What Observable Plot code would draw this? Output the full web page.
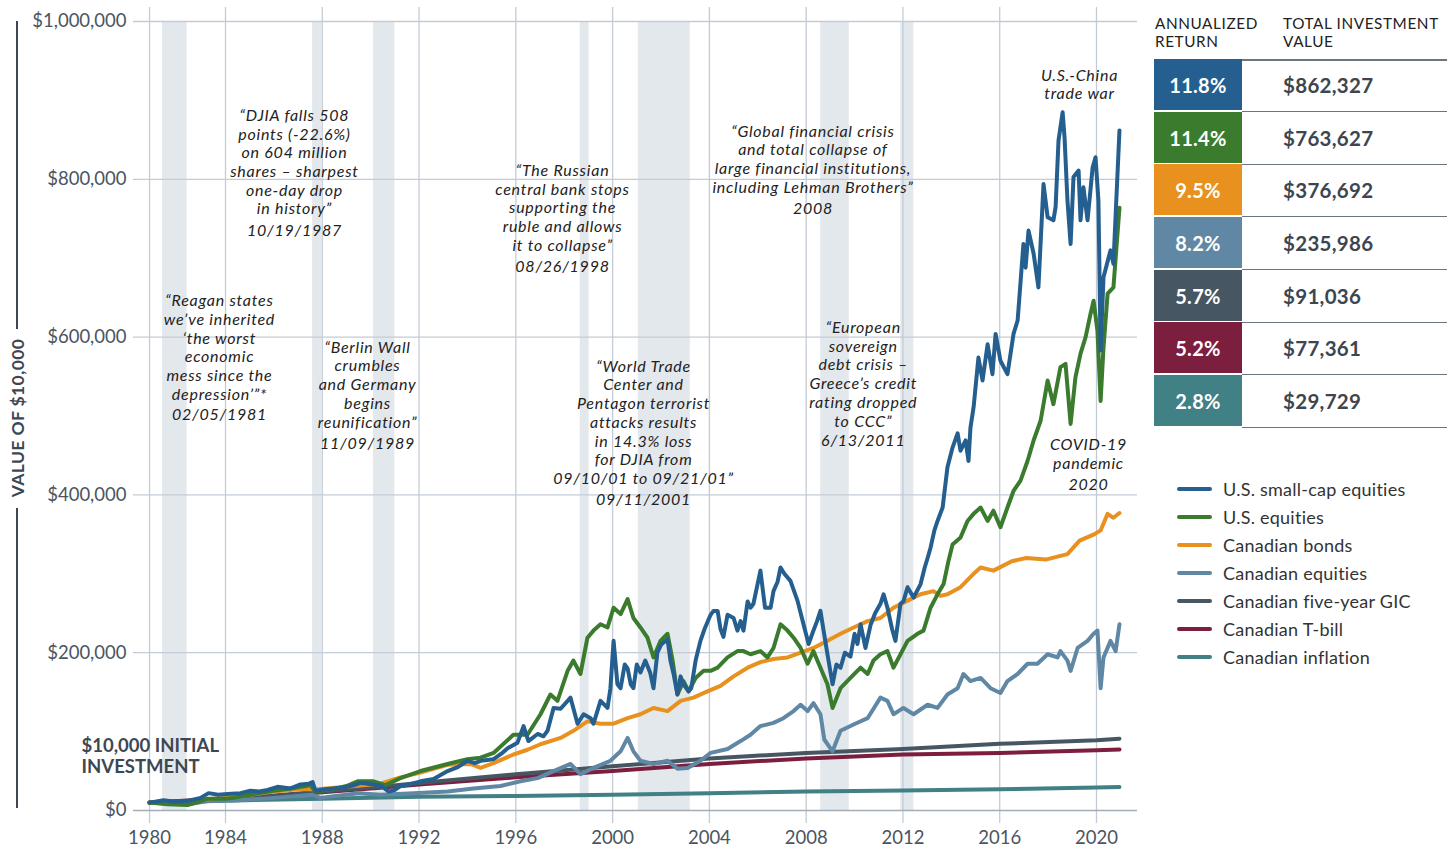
<!DOCTYPE html>
<html><head><meta charset="utf-8">
<script src="https://cdn.jsdelivr.net/npm/d3@7"></script>
<script src="https://cdn.jsdelivr.net/npm/@observablehq/plot@0.6"></script>
<style>
body{margin:0;background:#fff;font-family:Lato,"Open Sans",sans-serif;}
#wrap{position:relative;width:1456px;height:849px;overflow:hidden;background:#fff;}
#chart{position:absolute;left:0;top:0;}
.yline{position:absolute;left:16px;width:1.5px;background:#3d4753;}
#ylab{position:absolute;left:17px;top:418px;transform:translate(-50%,-50%) rotate(-90deg);white-space:nowrap;font-weight:700;font-size:17.5px;color:#3d4753;letter-spacing:0.4px;}
.hdr{position:absolute;top:14px;font-size:15.3px;line-height:18px;color:#222;letter-spacing:0.6px;}
.box{position:absolute;left:1154px;width:88px;color:#fff;font-weight:700;font-size:20px;display:flex;align-items:center;justify-content:center;letter-spacing:0.3px;}
.val{position:absolute;left:1283px;font-weight:700;font-size:20.5px;color:#3d4650;display:flex;align-items:center;letter-spacing:0.3px;}
.sep{position:absolute;left:1242px;width:205px;height:1.5px;background:#6b7580;}
.leg{position:absolute;left:1177px;display:flex;align-items:center;font-size:18px;color:#333;letter-spacing:0.25px;}
.leg span.sw{display:inline-block;width:35px;height:4px;border-radius:2px;margin-right:11px;}
</style></head>
<body><div id="wrap"><div id="chart"></div>
<div class="yline" style="top:21px;height:308px"></div>
<div class="yline" style="top:508px;height:300px"></div>
<div id="ylab">VALUE OF $10,000</div>
</div>
<script>
// ---- Data (values in thousands of dollars, x in decimal years) ----
const seriesNames = ["U.S. small-cap equities","U.S. equities","Canadian bonds","Canadian equities","Canadian five-year GIC","Canadian T-bill","Canadian inflation"];
const seriesColors = ["#245f8f","#3a7b2d","#e8911e","#6088a4","#475663","#7c1f3e","#418085"];
const annualizedReturns = ["11.8%","11.4%","9.5%","8.2%","5.7%","5.2%","2.8%"];
const totalValues = ["$862,327","$763,627","$376,692","$235,986","$91,036","$77,361","$29,729"];

const smallCap = [[1980.86,10],[1981.44,13],[1981.9,11],[1982.43,12],[1982.97,16],[1983.3,22],[1983.7,20],[1984.08,21],[1984.62,22],[1985.03,25],[1985.4,24],[1985.74,26],[1986.15,30],[1986.69,28],[1987.1,33],[1987.45,34],[1987.6,36],[1987.72,25],[1988.1,27],[1988.46,28],[1988.9,29],[1989.29,32],[1989.58,35],[1990.12,33],[1990.45,31],[1990.75,24],[1991.0,26],[1991.23,31],[1991.6,33],[1992.06,37],[1992.6,40],[1993.18,50],[1993.6,55],[1994.0,63],[1994.3,60],[1994.54,63],[1995.08,65],[1995.4,72],[1995.66,79],[1996.07,86],[1996.32,107],[1996.52,88],[1996.9,97],[1997.14,94],[1997.31,101],[1997.56,130],[1997.85,129],[1998.26,143],[1998.55,110],[1998.8,122],[1999.09,117],[1999.21,110],[1999.5,139],[1999.79,130],[1999.91,155],[2000.04,215],[2000.2,160],[2000.33,155],[2000.5,185],[2000.62,180],[2000.75,160],[2000.86,155],[2001.0,185],[2001.15,175],[2001.35,190],[2001.55,175],[2001.69,155],[2001.85,200],[2002.0,210],[2002.27,217],[2002.39,190],[2002.52,173],[2002.68,147],[2002.81,170],[2002.93,160],[2003.14,151],[2003.25,155],[2003.43,190],[2003.63,215],[2003.8,230],[2004.05,248],[2004.17,253],[2004.34,253],[2004.46,230],[2004.58,220],[2004.75,248],[2005.0,244],[2005.16,228],[2005.29,240],[2005.41,228],[2005.58,265],[2005.7,257],[2005.82,262],[2006.11,304],[2006.3,257],[2006.53,257],[2006.65,278],[2006.82,290],[2006.94,308],[2007.1,300],[2007.35,291],[2007.64,266],[2007.89,236],[2008.1,211],[2008.3,228],[2008.45,240],[2008.59,253],[2008.71,230],[2008.88,198],[2009.09,160],[2009.25,185],[2009.42,181],[2009.6,200],[2009.83,195],[2010.0,224],[2010.12,211],[2010.25,236],[2010.45,206],[2010.66,235],[2010.85,250],[2011.07,262],[2011.2,274],[2011.36,257],[2011.55,230],[2011.69,215],[2011.9,262],[2012.02,265],[2012.19,283],[2012.44,270],[2012.73,287],[2012.9,308],[2013.02,320],[2013.14,333],[2013.3,355],[2013.43,367],[2013.64,384],[2013.84,435],[2014.05,460],[2014.26,478],[2014.38,456],[2014.59,469],[2014.71,443],[2014.79,485],[2014.92,511],[2015.12,574],[2015.29,545],[2015.5,591],[2015.7,553],[2015.83,604],[2016.03,570],[2016.32,553],[2016.57,604],[2016.74,621],[2016.98,718],[2017.07,688],[2017.19,735],[2017.4,706],[2017.6,663],[2017.81,794],[2017.98,752],[2018.22,748],[2018.31,765],[2018.43,849],[2018.6,885],[2018.68,853],[2018.8,773],[2018.93,718],[2019.05,803],[2019.26,811],[2019.34,748],[2019.46,790],[2019.63,748],[2019.84,815],[2019.96,828],[2020.08,773],[2020.17,583],[2020.29,676],[2020.58,710],[2020.7,693],[2020.95,862]];
const usEquities = [[1980.86,10],[1981.6,8],[1982.43,7],[1982.9,11],[1983.26,15],[1984.0,15],[1984.33,16],[1985.16,21],[1985.98,25],[1986.69,28],[1987.51,32],[1987.72,24],[1988.46,27],[1989.0,31],[1989.46,37],[1990.12,37],[1990.6,32],[1991.23,41],[1992.06,50],[1993.18,59],[1994.0,65],[1994.54,67],[1995.08,73],[1995.9,96],[1996.48,96],[1997.02,122],[1997.43,147],[1997.72,139],[1998.14,177],[1998.38,190],[1998.67,173],[1998.96,219],[1999.21,228],[1999.5,236],[1999.79,232],[2000.04,257],[2000.33,249],[2000.62,268],[2000.86,244],[2001.15,232],[2001.44,219],[2001.69,194],[2001.98,215],[2002.27,224],[2002.48,190],[2002.68,147],[2002.93,164],[2003.14,151],[2003.43,168],[2003.76,177],[2004.05,177],[2004.34,181],[2004.75,194],[2005.16,202],[2005.41,202],[2005.7,198],[2006.11,202],[2006.4,194],[2006.65,206],[2006.94,236],[2007.23,228],[2007.48,219],[2007.77,206],[2008.06,186],[2008.3,202],[2008.59,181],[2008.88,160],[2009.09,130],[2009.42,155],[2009.83,168],[2010.25,181],[2010.54,173],[2010.78,190],[2011.07,198],[2011.36,202],[2011.61,181],[2011.9,198],[2012.19,215],[2012.6,224],[2012.85,228],[2013.14,257],[2013.43,274],[2013.68,287],[2013.88,316],[2014.05,337],[2014.38,346],[2014.67,367],[2014.92,376],[2015.21,384],[2015.5,367],[2015.74,380],[2016.03,359],[2016.32,384],[2016.57,405],[2016.86,418],[2017.15,443],[2017.4,469],[2017.69,494],[2017.98,545],[2018.22,515],[2018.51,562],[2018.72,566],[2018.93,490],[2019.13,549],[2019.34,579],[2019.55,600],[2019.75,629],[2019.88,646],[2020.04,608],[2020.17,519],[2020.29,587],[2020.46,655],[2020.7,663],[2020.95,764]];
const canBonds = [[1980.86,10],[1981.5,9],[1982.3,10],[1983,14],[1984,16],[1985,20],[1986,24],[1987,27],[1987.8,27],[1989,30],[1990.4,34],[1991.23,42],[1992.06,48],[1993.18,58],[1994.13,59],[1994.54,54],[1995.08,60],[1995.9,71],[1996.48,77],[1997.02,84],[1997.85,92],[1998.38,101],[1998.96,113],[1999.5,110],[2000.04,110],[2000.62,117],[2001.15,122],[2001.69,130],[2002.27,126],[2002.81,139],[2003.34,143],[2003.92,151],[2004.46,158],[2005.0,170],[2005.58,181],[2006.11,188],[2006.65,192],[2007.23,194],[2007.77,200],[2008.3,206],[2008.88,215],[2009.42,224],[2009.96,232],[2010.54,240],[2011.07,244],[2011.61,257],[2012.19,266],[2012.73,274],[2013.26,278],[2013.55,272],[2013.84,274],[2014.38,283],[2014.92,300],[2015.21,308],[2015.74,304],[2016.5,316],[2017.1,320],[2017.9,318],[2018.8,325],[2019.3,342],[2019.9,350],[2020.17,355],[2020.46,376],[2020.7,371],[2020.95,377]];
const canEquities = [[1980.86,10],[1981.5,10],[1982.43,8],[1983.3,12],[1984.5,13],[1986,16],[1987.6,20],[1987.9,16],[1989.5,22],[1990.41,20],[1991.77,22],[1993.18,24],[1994.25,28],[1995.37,31],[1996.19,37],[1996.9,41],[1997.56,50],[1998.26,59],[1998.67,46],[1999.21,54],[1999.91,63],[2000.33,75],[2000.62,92],[2000.86,75],[2001.15,63],[2001.69,59],[2002.27,63],[2002.68,53],[2003.1,54],[2003.63,63],[2004.05,73],[2004.75,78],[2005.29,88],[2005.7,96],[2006.11,107],[2006.65,111],[2007.06,117],[2007.48,126],[2007.77,134],[2008.06,126],[2008.3,136],[2008.59,122],[2008.75,90],[2009.09,75],[2009.42,101],[2009.96,109],[2010.54,117],[2011.07,143],[2011.36,139],[2011.61,122],[2012.02,130],[2012.44,122],[2013.02,134],[2013.43,130],[2013.84,147],[2014.26,155],[2014.5,173],[2014.79,164],[2015.21,168],[2015.62,155],[2016.03,149],[2016.32,164],[2016.74,173],[2017.15,186],[2017.56,186],[2017.98,198],[2018.39,194],[2018.51,202],[2018.8,190],[2018.93,177],[2019.22,206],[2019.63,215],[2019.88,224],[2020.04,228],[2020.17,155],[2020.29,194],[2020.58,215],[2020.79,202],[2020.95,236]];
const canGIC = [[1980.86,10],[1984,15],[1986,19],[1988,24],[1990,29],[1992,35],[1996,46],[2000,56],[2004,66],[2008,73],[2012,78],[2016,84.5],[2020,89],[2020.95,91]];
const canTBill = [[1980.86,10],[1984,15],[1986,18.5],[1988,23],[1990,28],[1992,33],[1996,42],[2000,50],[2004,59],[2008,66],[2012,71],[2016,73],[2020,76.5],[2020.95,77.4]];
const canInflation = [[1980.86,10],[1984,12.5],[1988,15],[1992,17.5],[1996,18.5],[2000,20],[2004,22],[2008,24],[2012,25.5],[2016,27],[2020,29],[2020.95,29.7]];

const recessionStarts = [1981.40, 1987.60, 1990.12, 1998.66, 2001.06, 2008.60, 2011.91];
const recessionEnds   = [1982.41, 1987.98, 1991.00, 1999.03, 2003.21, 2009.78, 2012.45];

const xTickYears = [1980.86, 1984, 1988, 1992, 1996, 2000, 2004, 2008, 2012, 2016, 2020];
const xTickLabels = ["1980","1984","1988","1992","1996","2000","2004","2008","2012","2016","2020"];
const yTicks = [0, 200000, 400000, 600000, 800000, 1000000];

const annotations = [
  {x: 1983.75, y: 656000, quote: "“Reagan states\nwe’ve inherited\n‘the worst\neconomic\nmess since the\ndepression’”*", date: "02/05/1981", dateY: 502000},
  {x: 1986.85, y: 891000, quote: "“DJIA falls 508\npoints (-22.6%)\non 604 million\nshares – sharpest\none-day drop\nin history”", date: "10/19/1987", dateY: 734000},
  {x: 1989.87, y: 597000, quote: "“Berlin Wall\ncrumbles\nand Germany\nbegins\nreunification”", date: "11/09/1989", dateY: 465000},
  {x: 1997.93, y: 821000, quote: "“The Russian\ncentral bank stops\nsupporting the\nruble and allows\nit to collapse”", date: "08/26/1998", dateY: 689000},
  {x: 2001.28, y: 573000, quote: "“World Trade\nCenter and\nPentagon terrorist\nattacks results\nin 14.3% loss\nfor DJIA from\n09/10/01 to 09/21/01”", date: "09/11/2001", dateY: 394000},
  {x: 2008.28, y: 871000, quote: "“Global financial crisis\nand total collapse of\nlarge financial institutions,\nincluding Lehman Brothers”", date: "2008", dateY: 762000},
  {x: 2010.36, y: 622000, quote: "“European\nsovereign\ndebt crisis –\nGreece’s credit\nrating dropped\nto CCC”", date: "6/13/2011", dateY: 468000},
  {x: 2019.30, y: 942000, quote: "U.S.-China\ntrade war", date: null, dateY: null},
  {x: 2019.67, y: 474000, quote: "COVID-19\npandemic", date: "2020", dateY: 413000}
];
const initialLabel = [{x: 1978.05, y: 93000, text: "$10,000 INITIAL\nINVESTMENT"}];

// ---- Build tidy table ----
const seriesPoints = [smallCap, usEquities, canBonds, canEquities, canGIC, canTBill, canInflation];
const rows = [];
for (let i = seriesPoints.length - 1; i >= 0; i--) {
  for (const [year, k] of seriesPoints[i]) rows.push({series: seriesNames[i], year, value: k * 1000});
}
const recessions = recessionStarts.map((s, i) => ({start: s, end: recessionEnds[i]}));

const W = 1145, H = 849;
const chart = Plot.plot({
  width: W, height: H,
  marginLeft: 133, marginRight: W - 1137, marginTop: 21, marginBottom: 39,
  style: {fontFamily: "Lato, 'Open Sans', sans-serif", color: "#4a5561", background: "transparent", overflow: "visible"},
  x: {domain: [1980.197, 2021.695]},
  y: {domain: [0, 1000000]},
  color: {domain: seriesNames, range: seriesColors},
  marks: [
    Plot.rect(recessions, {x1: "start", x2: "end", fill: "#e3e8ed"}),
    Plot.ruleX(xTickYears, {stroke: "#c3ccd6", strokeWidth: 1.3, insetTop: -14, insetBottom: -13}),
    Plot.ruleY(yTicks.filter(d => d > 0), {stroke: "#c3ccd6", strokeWidth: 1.3}),
    Plot.ruleY([0], {stroke: "#a3adb8", strokeWidth: 1.5}),
    Plot.axisY({ticks: yTicks, tickSize: 0, tickPadding: 7, fontSize: 18.5, label: null, tickFormat: d => "$" + d3.format(",")(d)}),
    Plot.axisX({ticks: xTickYears, tickSize: 0, tickPadding: 20, fontSize: 18.5, label: null, tickFormat: d => xTickLabels[xTickYears.indexOf(d)]}),
    Plot.line(rows, {x: "year", y: "value", z: "series", stroke: "series", strokeWidth: 4, strokeLinejoin: "round", strokeLinecap: "round"}),
    Plot.text(annotations, {x: "x", y: "y", text: "quote", lineAnchor: "top", fontStyle: "italic", fontSize: 16, lineHeight: 1.17, fill: "#222"}),
    Plot.text(annotations.filter(d => d.date), {x: "x", y: "dateY", text: "date", fontStyle: "italic", fontSize: 16, fill: "#222"}),
    Plot.text(initialLabel, {x: "x", y: "y", text: "text", lineAnchor: "top", textAnchor: "start", fontWeight: 700, fontSize: 18.5, lineHeight: 1.15, fill: "#3d4753"})
  ]
});
// widen the italic annotation lettering to match the reference typeface
d3.select(chart).selectAll("g[font-style=italic]").style("letter-spacing", "0.75px");
document.getElementById("chart").appendChild(chart);

// ---- Table and legend (HTML) ----
const wrap = document.getElementById("wrap");
function add(html) { wrap.insertAdjacentHTML("beforeend", html); }
add(`<div class="hdr" style="left:1155px">ANNUALIZED<br>RETURN</div>`);
add(`<div class="hdr" style="left:1283px">TOTAL INVESTMENT<br>VALUE</div>`);
const rowTop = [59, 112, 164, 217, 270, 322, 375];
const rowH = 51;
add(`<div class="sep" style="top:59px"></div>`);
seriesNames.forEach((name, i) => {
  const t = rowTop[i];
  add(`<div class="box" style="top:${t}px;height:${rowH}px;background:${seriesColors[i]}">${annualizedReturns[i]}</div>`);
  add(`<div class="val" style="top:${t}px;height:${rowH}px">${totalValues[i]}</div>`);
  add(`<div class="sep" style="top:${t + rowH + 0.5}px"></div>`);
  add(`<div class="leg" style="top:${477 + i * 28}px;height:24px"><span class="sw" style="background:${seriesColors[i]}"></span>${name}</div>`);
});
</script>
</body></html>
